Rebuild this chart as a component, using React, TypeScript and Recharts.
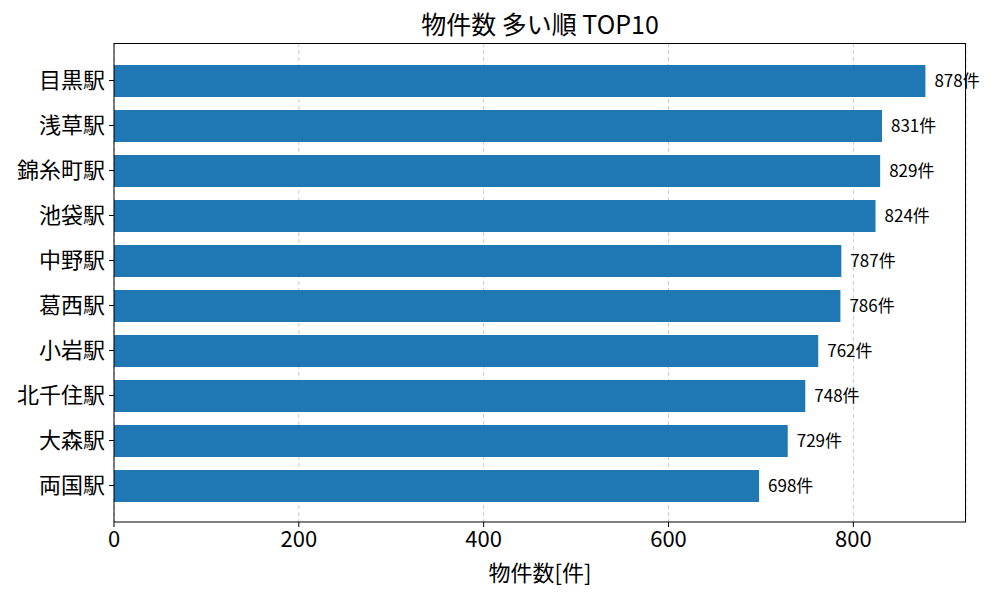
import { BarChart, Bar, XAxis, YAxis, CartesianGrid, LabelList } from 'recharts';

const stations = ['目黒駅', '浅草駅', '錦糸町駅', '池袋駅', '中野駅', '葛西駅', '小岩駅', '北千住駅', '大森駅', '両国駅'];
const counts = [878, 831, 829, 824, 787, 786, 762, 748, 729, 698];
const xTicks = [0, 200, 400, 600, 800];

const data = stations.map((name, i) => ({ name, count: counts[i] }));

const FONT = '"Noto Sans CJK JP", "Noto Sans", sans-serif';

const App = () => {
  return (
    <div style={{ position: 'absolute', left: 0, top: 0, width: 1000, height: 600, background: '#fff', fontFamily: FONT }}>
      <div
        style={{
          position: 'absolute',
          left: 114,
          width: 852,
          top: 6,
          textAlign: 'center',
          fontSize: 25,
          color: '#000',
          lineHeight: '34px',
        }}
      >
        物件数 多い順 TOP10
      </div>
      <BarChart
        width={1000}
        height={600}
        data={data}
        layout="vertical"
        margin={{ top: 43, right: 34, bottom: 0, left: 0 }}
        barCategoryGap={0}
      >
        <CartesianGrid horizontal={false} stroke="#cccccc" strokeDasharray="4 3" />
        <XAxis
          type="number"
          domain={[0, 921.9]}
          ticks={xTicks}
          height={78}
          allowDataOverflow
          tick={{ fontSize: 22, fill: '#000', fontFamily: FONT }}
          tickSize={5}
          tickMargin={4}
          axisLine={{ stroke: '#000' }}
          tickLine={{ stroke: '#000' }}
          label={{ value: '物件数[件]', position: 'insideBottom', offset: 19, fontSize: 22, fill: '#000', fontFamily: FONT }}
        />
        <YAxis
          type="category"
          dataKey="name"
          width={114}
          padding={{ top: 15, bottom: 14 }}
          tick={{ fontSize: 22, fill: '#000', fontFamily: FONT }}
          tickSize={5}
          tickMargin={4}
          axisLine={{ stroke: '#000' }}
          tickLine={{ stroke: '#000' }}
          interval={0}
        />
        <Bar dataKey="count" fill="#1f77b4" barSize={32} isAnimationActive={false}>
          <LabelList
            dataKey="count"
            position="right"
            offset={9}
            formatter={(v) => `${v}件`}
            style={{ fontSize: 17, fill: '#000', fontFamily: FONT }}
          />
        </Bar>
      </BarChart>
      <svg style={{ position: 'absolute', left: 0, top: 0, pointerEvents: 'none' }} width={1000} height={600}>
        <line x1={114} y1={43.5} x2={966} y2={43.5} stroke="#000" strokeWidth={1} />
        <line x1={965.5} y1={43} x2={965.5} y2={522} stroke="#000" strokeWidth={1} />
      </svg>
    </div>
  );
};

export default App;
